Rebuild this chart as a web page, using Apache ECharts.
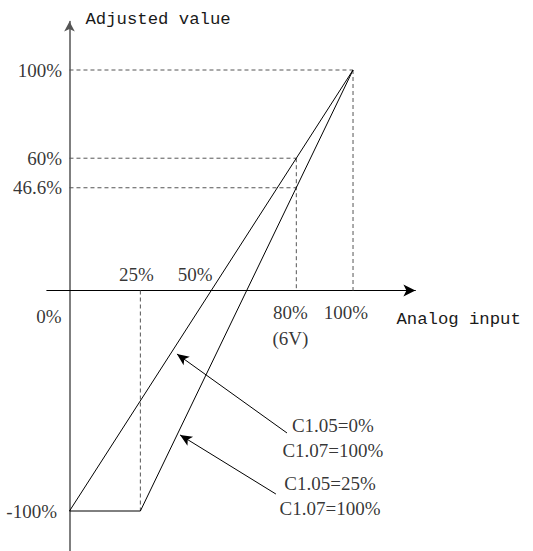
<!DOCTYPE html>
<html><head><meta charset="utf-8">
<script src="https://cdn.jsdelivr.net/npm/echarts@6/dist/echarts.min.js"></script>
<style>html,body{margin:0;padding:0;background:#fff}#c{width:533px;height:551px}</style>
</head><body><div id="c"></div>
<script>
// ---- data ----
const xAxisName = 'Analog input';
const yAxisName = 'Adjusted value';
const lineA = [[0, -100], [100, 100]];                 // C1.05=0%,  C1.07=100%
const lineB = [[0, -100], [25, -100], [100, 100]];     // C1.05=25%, C1.07=100%
const guideSegments = [
  [[0, 100], [100, 100]],
  [[100, 100], [100, 0]],
  [[0, 60], [80, 60]],
  [[0, 46.6], [80, 46.6]],
  [[80, 60], [80, 0]],
  [[25, 0], [25, -100]]
];
const yTickValues = [100, 60, 46.6, -100];
const yTickLabels = ['100%', '60%', '46.6%', '-100%'];
const xTickTopValues = [25, 50];
const xTickTopLabels = ['25%', '50%'];
const xTickBottomValues = [80, 100];
const xTickBottomLabels = ['80%\n(6V)', '100%'];
const originLabel = '0%';
const noteTexts = ['C1.05=0%\nC1.07=100%', 'C1.05=25%\nC1.07=100%'];
const notePos = [[92.9, -66.7], [91.9, -93.4]];
const arrowFrom = [[76.7, -64.6], [72.8, -92.3]];
const arrowTo = [[37.9, -28.8], [39.0, -65.5]];

// ---- styles ----
const serif = {fontFamily: 'Liberation Serif', fontSize: 19, color: '#000'};
const mono = {fontFamily: 'Liberation Mono', fontSize: 17.3, color: '#1a1a1a'};
const yLabelDist = [7, 7, 7, 12];
const xTopOffset = [[-4, 0], [-16, 0]];
const xBottomOffset = [[-6, 0], [-7, 0]];

const labelData = [];
yTickValues.forEach((v, i) => labelData.push({
  value: [0, v],
  label: Object.assign({show: true, formatter: yTickLabels[i], position: 'left', distance: yLabelDist[i]}, serif)
}));
xTickTopValues.forEach((v, i) => labelData.push({
  value: [v, 0],
  label: Object.assign({show: true, formatter: xTickTopLabels[i], position: 'top', distance: 6, offset: xTopOffset[i]}, serif)
}));
xTickBottomValues.forEach((v, i) => labelData.push({
  value: [v, 0],
  label: Object.assign({show: true, formatter: xTickBottomLabels[i], position: 'bottom', distance: 8, offset: xBottomOffset[i], lineHeight: 26}, serif)
}));
labelData.push({
  value: [0, 0],
  label: Object.assign({show: true, formatter: originLabel, position: 'bottom', distance: 16, offset: [-20.5, 0]}, serif)
});
noteTexts.forEach((t, i) => labelData.push({
  value: notePos[i],
  label: Object.assign({show: true, formatter: t, position: 'inside', lineHeight: 25, align: 'center', verticalAlign: 'middle'}, serif)
}));

const series = [];
guideSegments.forEach(seg => series.push({
  type: 'line', data: seg, symbol: 'none', silent: true, z: 1,
  lineStyle: {color: '#555', width: 1, type: [4, 3]}
}));
[lineA, lineB].forEach(d => series.push({
  type: 'line', data: d, symbol: 'none', silent: true, z: 3,
  lineStyle: {color: '#000', width: 1}
}));
series.push({
  type: 'scatter', data: labelData, symbolSize: 1, silent: true, z: 5,
  itemStyle: {color: 'rgba(0,0,0,0)'},
  markLine: {
    silent: true, animation: false,
    symbol: ['none', 'arrow'], symbolSize: [8, 12],
    label: {show: false},
    lineStyle: {color: '#000', width: 1, type: 'solid'},
    data: arrowFrom.map((f, i) => [{coord: f}, {coord: arrowTo[i]}])
  }
});

const chart = echarts.init(document.getElementById('c'), null, {renderer: 'svg'});
chart.setOption({
  animation: false,
  backgroundColor: '#fff',
  grid: {left: 46.8, right: 117.6, top: 21.5, bottom: 0.3, containLabel: false, outerBoundsMode: 'none'},
  xAxis: {
    type: 'value', min: -8, max: 122,
    name: xAxisName, nameLocation: 'end', nameGap: -19,
    nameTextStyle: Object.assign({align: 'left', verticalAlign: 'top', padding: [20, 0, 0, 0]}, mono),
    axisLine: {onZero: true, symbol: ['none', 'arrow'], symbolSize: [9, 12], lineStyle: {color: '#000', width: 1}},
    axisTick: {show: false}, axisLabel: {show: false}, splitLine: {show: false}
  },
  yAxis: {
    type: 'value', min: -118, max: 122,
    name: yAxisName, nameLocation: 'end', nameGap: 2.5,
    nameTextStyle: Object.assign({align: 'left', verticalAlign: 'middle', padding: [0, 0, 0, 16]}, mono),
    axisLine: {onZero: true, symbol: ['none', 'arrow'], symbolSize: [8, 10], lineStyle: {color: '#555', width: 1.5}},
    axisTick: {show: false}, axisLabel: {show: false}, splitLine: {show: false}
  },
  series: series
});
</script></body></html>
